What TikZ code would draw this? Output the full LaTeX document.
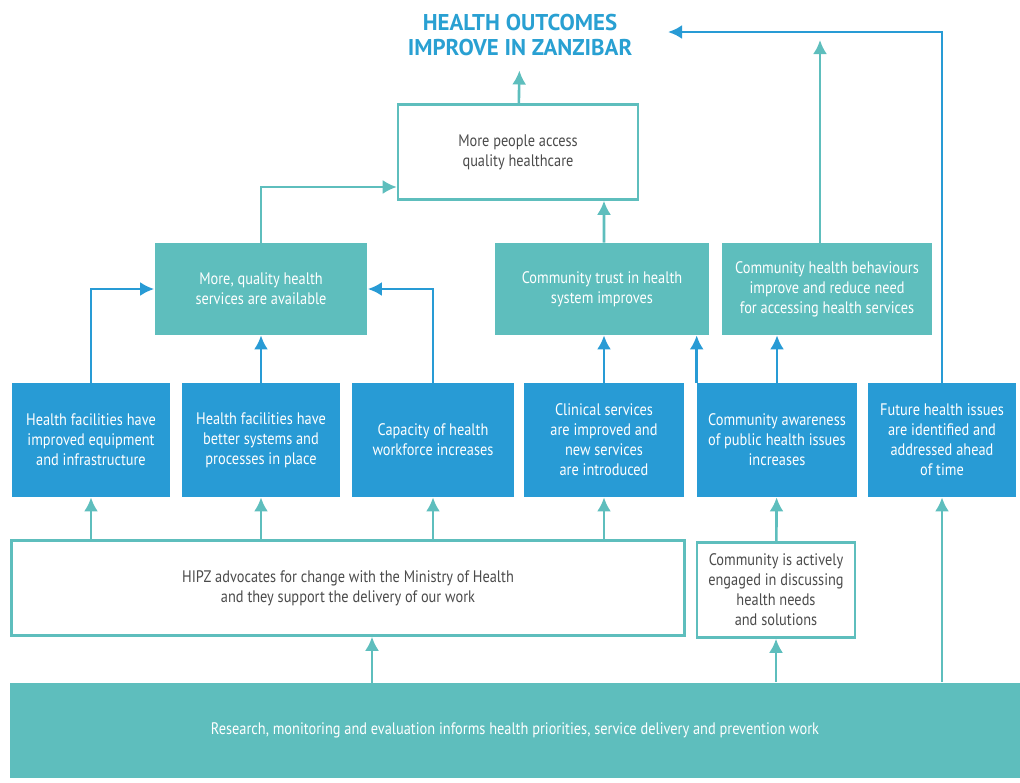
\documentclass[tikz,border=0pt]{standalone}
\usepackage{fontspec}
\setmainfont{PT Sans}[FakeStretch=0.86]
\newfontfamily\titlefont{PT Sans Bold}
\usetikzlibrary{arrows.meta}
\definecolor{hblue}{RGB}{40,155,213}
\definecolor{hteal}{RGB}{94,190,189}
\definecolor{htitle}{RGB}{41,160,210}
\definecolor{htext}{RGB}{75,75,75}
\tikzset{>={Latex[length=8pt,width=8pt]}}
\tikzset{
  boxtext/.style={align=center, inner sep=0pt, font=\fontsize{9.5}{11.4}\selectfont},
  bluebox/.style={boxtext, fill=hblue, text=white, minimum height=2.28cm},
  tealbox/.style={boxtext, fill=hteal, text=white, minimum height=1.84cm},
  whitebox/.style={boxtext, draw=hteal, line width=1.4pt, fill=white, text=htext, minimum height=1.9cm},
  bluearrow/.style={->, draw=hblue, line width=1.5pt},
  tealarrow/.style={->, draw=hteal, line width=1.5pt},
}

\begin{document}
\begin{tikzpicture}[x=0.02cm,y=-0.02cm]
\useasboundingbox (0,0) rectangle (1020,782);
                \node[text=htitle, align=center, outer sep=5pt, font=\titlefont\fontsize{13}{14.2}\selectfont] (title) at (520,35) {HEALTH OUTCOMES\\IMPROVE IN ZANZIBAR};
                \coordinate (goal) at (668,32);
                \coordinate (aim) at (820,40);
                % outcomes
                \node[whitebox, minimum width=4.8cm] (access) at (518,152) {More people access\\quality healthcare};
                \node[tealbox, minimum width=4.26cm] (services) at (261,289) {More, quality health\\services are available};
                \node[tealbox, minimum width=4.3cm] (trust) at (602,289) {Community trust in health\\system improves};
                \node[tealbox, minimum width=4.2cm] (behav) at (827,289) {Community health behaviours\\improve and reduce need\\for accessing health services};
                % intermediate changes
                \node[bluebox, minimum width=3.16cm] (b1) at (91,440) {Health facilities have\\improved equipment\\and infrastructure};
                \node[bluebox, minimum width=3.16cm] (b2) at (261,440) {Health facilities have\\better systems and\\processes in place};
                \node[bluebox, minimum width=3.26cm] (b3) at (433,440) {Capacity of health\\workforce increases};
                \node[bluebox, minimum width=3.22cm] (b4) at (604,440) {Clinical services\\are improved and\\new services\\are introduced};
                \node[bluebox, minimum width=3.2cm] (b5) at (777,440) {Community awareness\\of public health issues\\increases};
                \node[bluebox, minimum width=2.96cm] (b6) at (942,440) {Future health issues\\are identified and\\addressed ahead\\of time};
                % activities
                \node[whitebox, minimum width=13.46cm] (hipz) at (348,588) {HIPZ advocates for change with the Ministry of Health\\and they support the delivery of our work};
                \node[whitebox, minimum width=3.16cm] (comm) at (776,590) {Community is actively\\engaged in discussing\\health needs\\and solutions};
                \node[boxtext, fill=hteal, text=white, minimum width=20.2cm, minimum height=1.9cm] (band) at (515,730) {Research, monitoring and evaluation informs health priorities, service delivery and prevention work};
                % arrows
                \draw[tealarrow] (access) -- (title);
                \draw[tealarrow] (services.north) |- ([yshift=-0.7cm]access.west);
                \draw[tealarrow] (trust.north -| access.south) ++(86,0) -- ([xshift=1.72cm]access.south);
                \draw[tealarrow] (aim |- behav.north) -- (aim);
                \draw[bluearrow] (b6.north) |- (goal);
                \draw[bluearrow] (b1.north) |- (services.west);
                \draw[bluearrow] (b2) -- (services);
                \draw[bluearrow] (b3.north) |- (services.east);
                \draw[bluearrow] (b4) -- (b4 |- trust.south);
                \draw[bluearrow] (b5.north west) -- (b5.north west |- trust.south);
                \draw[bluearrow] (b5) -- (b5 |- behav.south);
                \draw[tealarrow] (b1 |- hipz.north) -- (b1);
                \draw[tealarrow] (b2 |- hipz.north) -- (b2);
                \draw[tealarrow] (b3 |- hipz.north) -- (b3);
                \draw[tealarrow] (b4 |- hipz.north) -- (b4);
                \draw[tealarrow] (comm) -- (b5);
                \draw[tealarrow] (372,683) -- (hipz.south -| 372,0);
                \draw[tealarrow] (comm |- band.north) -- (comm);
                \draw[tealarrow] (b6 |- band.north) -- (b6);
            \end{tikzpicture}
\end{document}
